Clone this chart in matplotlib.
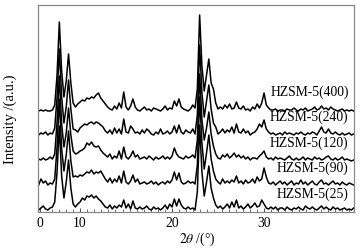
import numpy as np
import matplotlib
matplotlib.use("Agg")
import matplotlib.pyplot as plt
from matplotlib.ticker import FixedLocator

plt.rcParams["font.family"] = ["Liberation Serif", "DejaVu Serif"]
plt.rcParams["mathtext.fontset"] = "stix"

# 2theta sampling grid, 5.5 .. 39.75 deg in 0.25 deg steps
two_theta = np.arange(5.5, 39.76, 0.25)

# intensities (a.u., above each trace's own baseline)
i_400 = [0, 1,
         0, 1, 0, 0,   1, 6, 36, 89,   40, 14, 30, 57,   28, 8, 4, 7,
         9, 11, 10, 13,   12, 14, 13, 16,   18, 13, 10, 7,   4, 2, 1, 5,
         2, 8, 3, 19,   4, 1, 5, 12,   4, 1, 0, 2,   4, 1, 2, 0,
         3, 2, 1, 0,   2, 5, 1, 3,   2, 10, 5, 12,   4, 2, 1, 0,
         2, 6, 3, 22,   96, 45, 20, 36,   52, 28, 22, 8,   2, 4, 2, 6,
         3, 7, 2, 3,   9, 3, 2, 5,   1, 2, 0, 4,   2, 7, 3, 8,
         18, 6, 3, 1,   1, 2, 0, 1,   1, 0, 2, 1,   1, 3, 1, 0,
         2, 1, 3, 0,   1, 2, 4, 1,   2, 5, 2, 3,   1, 4, 2, 1,
         0, 1, 2, 0,   1, 0, 1, 0]
i_240 = [0, 2,
         1, 3, 0, 2,   1, 7, 38, 86,   38, 12, 28, 55,   26, 6, 5, 3,
         7, 9, 11, 10,   12, 13, 11, 13,   12, 10, 8, 4,   2, 5, 1, 7,
         2, 6, 1, 16,   3, 2, 9, 6,   2, 3, 1, 5,   2, 6, 4, 1,
         0, 3, 1, 6,   1, 2, 4, 1,   3, 9, 2, 10,   3, 1, 5, 3,
         2, 6, 1, 20,   90, 42, 18, 34,   50, 26, 12, 8,   1, 3, 6, 2,
         5, 3, 8, 2,   11, 3, 2, 6,   2, 4, 0, 2,   3, 6, 11, 8,
         15, 6, 3, 1,   2, 0, 1, 2,   0, 3, 1, 2,   1, 0, 2, 1,
         3, 1, 0, 2,   1, 3, 2, 0,   4, 8, 3, 2,   6, 2, 1, 3,
         1, 0, 2, 0,   1, 2, 0, 1]
i_120 = [1, 0,
         2, 0, 1, 3,   1, 6, 38, 84,   36, 13, 27, 52,   25, 9, 6, 7,
         9, 10, 12, 17,   15, 18, 14, 13,   14, 10, 7, 5,   3, 6, 1, 4,
         2, 9, 1, 13,   3, 1, 4, 9,   3, 5, 1, 2,   3, 1, 4, 2,
         0, 3, 1, 2,   4, 1, 3, 1,   4, 12, 6, 3,   2, 1, 4, 2,
         3, 5, 2, 20,   86, 40, 20, 32,   48, 26, 14, 6,   2, 1, 5, 3,
         6, 2, 4, 7,   3, 5, 2, 4,   1, 3, 0, 2,   2, 1, 4, 6,
         9, 3, 1, 2,   0, 3, 1, 2,   1, 0, 2, 4,   1, 0, 2, 0,
         1, 3, 0, 2,   1, 0, 3, 1,   2, 0, 1, 3,   4, 1, 0, 2,
         0, 1, 3, 0,   1, 0, -1, 0]
i_90 = [0, 6,
        2, 4, 0, 2,   1, 6, 38, 86,   36, 14, 30, 54,   24, 8, 9, 8,
        10, 9, 11, 13,   12, 15, 11, 13,   12, 14, 10, 6,   3, 7, 2, 6,
        3, 9, 2, 14,   3, 1, 4, 10,   3, 6, 1, 2,   3, 1, 2, 4,
        1, 3, 0, 2,   3, 1, 4, 2,   5, 13, 5, 12,   3, 1, 2, 4,
        2, 3, 1, 20,   88, 42, 16, 32,   50, 26, 14, 6,   3, 1, 6, 2,
        4, 2, 5, 3,   9, 2, 4, 1,   5, 2, 3, 6,   2, 8, 4, 6,
        17, 8, 2, 1,   3, 0, 2, 4,   1, 3, 0, 2,   4, 0, 2, 1,
        5, 1, 3, 0,   2, 4, 1, 0,   3, 5, 1, 2,   0, 2, 4, 1,
        2, 0, 3, 1,   0, 2, 1, 0]
i_25 = [0, 2,
        4, 1, 0, 2,   3, 8, 38, 84,   34, 12, 28, 50,   22, 6, 3, 6,
        8, 12, 10, 14,   13, 15, 12, 14,   11, 9, 6, 3,   2, 5, 1, 4,
        2, 5, 3, 10,   2, 6, 1, 9,   2, 1, 3, 1,   2, 4, 1, 0,
        3, 1, 2, 0,   2, 5, 1, 6,   3, 11, 4, 11,   5, 2, 1, 3,
        1, 2, 0, 18,   85, 38, 14, 28,   44, 22, 12, 5,   2, 4, 1, 3,
        6, 2, 8, 3,   10, 2, 4, 1,   3, 6, 2, 4,   7, 3, 4, 10,
        6, 2, 1, 3,   1, 3, 0, 2,   2, 0, 3, 1,   0, 2, 1, 3,
        1, 0, 4, 2,   1, 3, 1, 0,   2, 4, 1, 3,   1, 0, 3, 1,
        2, 0, 1, 2,   0, 1, 0, 2]

samples = ["HZSM-5(400)", "HZSM-5(240)", "HZSM-5(120)", "HZSM-5(90)", "HZSM-5(25)"]
series = [i_400, i_240, i_120, i_90, i_25]
offsets = [101, 77, 52, 27, 2]
label_y = [121, 96, 70, 45, 19]

fig = plt.figure(figsize=(3.62, 2.51), dpi=100)
ax = fig.add_axes([38 / 362, 1 - 213 / 251, 316 / 362, 207 / 251])

for name, vals, off, ly in zip(samples, series, offsets, label_y):
    ax.plot(two_theta, np.array(vals) + off, color="black", lw=1.1)
    ax.text(39.2, ly, name, ha="right", va="center", fontsize=9.8)

ax.set_xlim(5.43, 39.78)
ax.set_ylim(0, 207)
ax.xaxis.set_major_locator(FixedLocator([5.65, 10, 20, 30]))
ax.set_xticklabels(["0", "10", "20", "30"])
ax.xaxis.set_minor_locator(FixedLocator(np.arange(10 - 4 * 10 / 13, 40, 10 / 13)))
ax.tick_params(axis="x", which="major", direction="in", length=3, labelsize=9.8,
               pad=3, color="#555555")
ax.tick_params(axis="x", which="minor", direction="in", length=2, color="#555555")
ax.set_yticks([])
for sp in ax.spines.values():
    sp.set_color("#888888")
    sp.set_linewidth(0.9)

fig.text(197 / 362, 1 - 239 / 251, r"$2\theta$ /(°)", ha="center", va="center", fontsize=9.8)
fig.text(10 / 362, 1 - 119 / 251, "Intensity /(a.u.)", ha="center", va="center",
         rotation=90, fontsize=10.5)

fig.savefig("out.png", dpi=100)
